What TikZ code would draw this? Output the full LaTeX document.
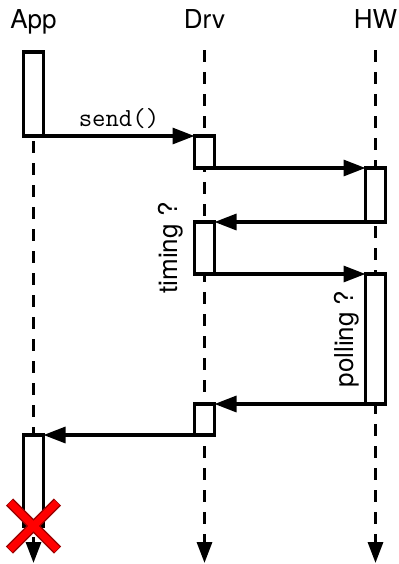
\documentclass[tikz,border=0pt]{standalone}
\usepackage{fontspec}
\setmainfont{TeX Gyre Heros}
\usepackage{tikz}
\usetikzlibrary{arrows.meta,positioning,calc}

\begin{document}
\begin{tikzpicture}[x=0.5pt,y=-0.5pt,
    lbl/.style={font=\fontsize{13}{15}\selectfont, inner sep=0pt, anchor=base},
    act/.style={draw, line width=1.6pt, fill=white, minimum width=10pt,
      inner sep=0pt, outer sep=0pt, anchor=north},
    msg/.style={line width=1.6pt, -{Triangle[length=11pt,width=8pt]}},
    life/.style={line width=1.6pt, dash pattern=on 6pt off 5pt,
      -{Triangle[length=10.5pt,width=7.5pt]}}]
  \useasboundingbox (0,0) rectangle (398,564);
  % lifeline heads
  \node[lbl] (app) at (33.5,28) {App};
  \node[lbl] (drv) at (204.5,28) {Drv};
  \node[lbl] (hw) at (375.5,28) {HW};
  \coordinate (appTop) at (33.5,53);
  \coordinate (drvTop) at (204.5,50);
  \coordinate (hwTop) at (375.5,50);
  \coordinate (appEnd) at (33.5,563);
  \coordinate (drvEnd) at (204.5,563);
  \coordinate (hwEnd) at (375.5,563);
  % lifelines
  \draw[life] (appTop) -- (appEnd);
  \draw[life] (drvTop) -- (drvEnd);
  \draw[life] (hwTop) -- (hwEnd);
  % activations
  \node[act, minimum height=42pt] (a1) at (33.5,52) {};
  \node[act, minimum height=16pt] (d1) at (204.5,136) {};
  \node[act, minimum height=27pt] (h1) at (375.5,168) {};
  \node[act, minimum height=26pt] (d2) at (204.5,222) {};
  \node[act, minimum height=65pt] (h2) at (375.5,274) {};
  \node[act, minimum height=15.5pt] (d3) at (204.5,404) {};
  \node[act, minimum height=45.5pt] (a2) at (33.5,435) {};
  % messages
  \draw[msg] (a1.south east) -- node[above, font=\ttfamily\fontsize{13}{15}\selectfont, inner sep=3pt] {send()} (d1.north west);
  \draw[msg] (d1.south east) -- (h1.north west);
  \draw[msg] (h1.south west) -- (d2.north east);
  \draw[msg] (d2.south east) -- (h2.north west);
  \draw[msg] (h2.south west) -- (d3.north east);
  \draw[msg] (d3.south west) -- (a2.north east);
  % notes
  \node[rotate=90, anchor=south, inner sep=0pt, font=\fontsize{13}{15}\selectfont]
    (timing) at ([xshift=-5.5pt]d2.west) {timing ?};
  \node[rotate=90, anchor=south, inner sep=0pt, font=\fontsize{13}{15}\selectfont]
    (polling) at ([xshift=-2.8pt]h2.west) {polling ?};
  % end of App
  \coordinate (kill) at (a2.south);
  \draw[red!60!black, line width=5pt]
    ($(kill)+(-24,-24)$) -- ($(kill)+(24,24)$)
    ($(kill)+(-24,24)$) -- ($(kill)+(24,-24)$);
  \draw[red, line width=3.6pt]
    ($(kill)+(-23.5,-23.5)$) -- ($(kill)+(23.5,23.5)$)
    ($(kill)+(-23.5,23.5)$) -- ($(kill)+(23.5,-23.5)$);
\end{tikzpicture}
\end{document}
